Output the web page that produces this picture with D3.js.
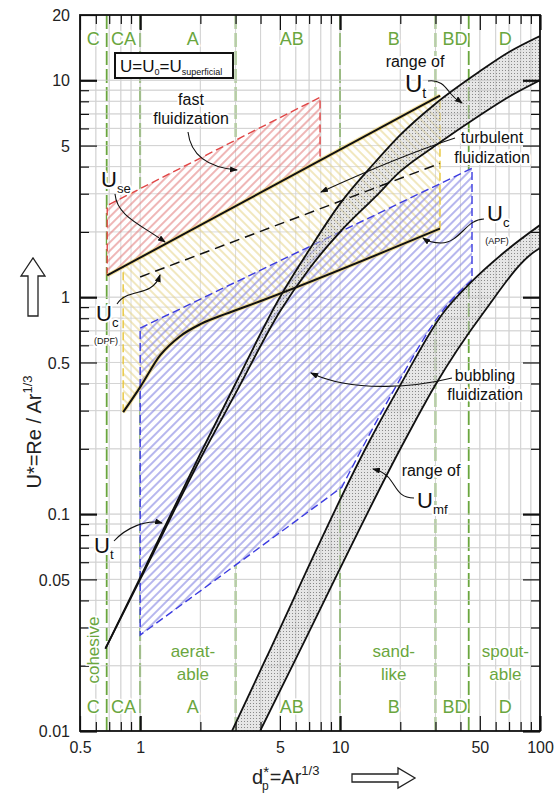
<!DOCTYPE html>
<html>
<head>
<meta charset="utf-8">
<script src="https://cdn.jsdelivr.net/npm/d3@7"></script>
<style>
  body { margin: 0; background: #fff; }
  svg { display: block; font-family: "Liberation Sans", Arial, sans-serif; }
</style>
</head>
<body>
<svg id="chart" width="557" height="793"></svg>
<script>
// values
const xTickLabels = [0.5, 1, 5, 10, 50, 100];
const yTickLabels = [0.01, 0.05, 0.1, 0.5, 1, 5, 10, 20];
const groupBounds = [0.68, 1, 3, 10, 30, 44];
const groupNames = ["C", "CA", "A", "AB", "B", "BD", "D"];
const groupWords = [["cohesive"], [], ["aerat-", "able"], [], ["sand-", "like"], [], ["spout-", "able"]];

const useLine = [[0.684, 1.26], [31.6, 8.5]];
const ucDPF = [[1.0, 1.24], [31.6, 4.14]];
const ucAPF = [[0.822, 0.295], [1.0, 0.385], [1.26, 0.54], [1.585, 0.661], [2.0, 0.751], [2.66, 0.835], [3.98, 0.958], [31.6, 2.07]];
const fastTop = [[0.684, 2.65], [7.94, 8.35]];
const turbEdges = [0.822, 31.6];
const bubTop = [[1.0, 0.72], [45.7, 3.93]];
const bubRight = [[45.7, 1.2], [32.7, 0.87], [20, 0.42], [14.1, 0.235], [10.2, 0.133]];
const bubBottom = [[10.2, 0.133], [1.0, 0.0277]];
const utUpper = [[0.67, 0.024], [1, 0.051], [2, 0.19], [3, 0.40], [5, 1.0], [7, 1.65], [10, 2.7], [15, 4.2], [20, 5.6], [30, 7.8], [50, 11], [70, 13.5], [100, 16]];
const utLower = [[0.67, 0.024], [1, 0.05], [2, 0.18], [3, 0.36], [5, 0.86], [7, 1.35], [10, 2.0], [15, 2.9], [20, 3.8], [30, 5.0], [50, 6.9], [70, 8.4], [100, 10]];
const umfUpper = [[2.88, 0.01], [4.22, 0.0212], [14.1, 0.219], [20, 0.393], [32.7, 0.844], [44.7, 1.16], [68.4, 1.65], [100, 2.15]];
const umfLower = [[3.98, 0.01], [5.96, 0.0212], [21.1, 0.219], [29.9, 0.393], [51.9, 0.844], [96.6, 1.65], [100, 1.68]];

const pl = 80, pr = 540, pt = 15, pb = 731;
const green = "#6aa63e";

const svg = d3.select("#chart");
const x = d3.scaleLog().domain([0.5, 100]).range([pl, pr]);
const y = d3.scaleLog().domain([0.01, 20]).range([pb, pt]);

// log-space interpolation along a straight boundary
function at(seg, d) {
    const [a, b] = seg;
    const t = Math.log(d / a[0]) / Math.log(b[0] / a[0]);
    return Math.exp(Math.log(a[1]) + t * Math.log(b[1] / a[1]));
}

const defs = svg.append("defs");
defs.append("clipPath").attr("id", "plot-clip")
    .append("rect").attr("x", pl).attr("y", pt)
    .attr("width", pr - pl).attr("height", pb - pt);

function hatch(id, color, angle) {
    defs.append("pattern")
        .attr("id", id)
        .attr("patternUnits", "userSpaceOnUse")
        .attr("width", 6).attr("height", 6)
        .attr("patternTransform", `rotate(${angle})`)
        .append("line")
        .attr("x1", 3).attr("y1", 0).attr("x2", 3).attr("y2", 6)
        .attr("stroke", color).attr("stroke-width", 1.1);
}
hatch("hatch-red", "#e27a7a", 45);
hatch("hatch-yellow", "#e6d48a", -45);
hatch("hatch-blue", "#7b7be0", 45);

const dots = defs.append("pattern")
    .attr("id", "stipple")
    .attr("patternUnits", "userSpaceOnUse")
    .attr("width", 3).attr("height", 3);
dots.append("rect").attr("width", 3).attr("height", 3).attr("fill", "#c8c8c8").attr("opacity", 0.45);
dots.append("rect").attr("x", 1).attr("y", 1).attr("width", 1).attr("height", 1).attr("fill", "#8a8a8a");

defs.append("marker")
    .attr("id", "arrowhead")
    .attr("markerWidth", 8).attr("markerHeight", 6)
    .attr("refX", 7).attr("refY", 3)
    .attr("orient", "auto")
    .attr("markerUnits", "userSpaceOnUse")
    .append("polygon")
    .attr("points", "0 0, 8 3, 0 6")
    .attr("fill", "#111");

const line = d3.line().x(d => x(d[0])).y(d => y(d[1]));
const smooth = d3.line().x(d => x(d[0])).y(d => y(d[1])).curve(d3.curveMonotoneX);

// grid values
const gridX = [], gridY = [];
[0.1, 1, 10].forEach(dec => d3.range(1, 10).forEach(k => gridX.push(+(k * dec).toPrecision(3))));
gridX.push(100);
[0.01, 0.1, 1, 10].forEach(dec => d3.range(1, 10).forEach(k => gridY.push(+(k * dec).toPrecision(3))));
const gx = gridX.filter(v => v >= 0.5 && v <= 100);
const gy = gridY.filter(v => v >= 0.01 && v <= 20);

function drawGrid(g) {
    g.selectAll("line.gx").data(gx).join("line").attr("class", "gx")
        .attr("x1", d => x(d)).attr("x2", d => x(d)).attr("y1", pt).attr("y2", pb)
        .attr("stroke", "#d2d2d2").attr("stroke-width", 0.8);
    g.selectAll("line.gy").data(gy).join("line").attr("class", "gy")
        .attr("y1", d => y(d)).attr("y2", d => y(d)).attr("x1", pl).attr("x2", pr)
        .attr("stroke", "#d2d2d2").attr("stroke-width", 0.8);
}

const plot = svg.append("g").attr("clip-path", "url(#plot-clip)");
drawGrid(plot.append("g"));

// Geldart group boundaries
plot.append("g").selectAll("line").data(groupBounds).join("line")
    .attr("x1", d => x(d)).attr("x2", d => x(d))
    .attr("y1", pt).attr("y2", pb)
    .attr("stroke", green).attr("stroke-width", 1.8)
    .attr("stroke-dasharray", "14,4");

// regime polygons
const fastPoly = [fastTop[0], fastTop[1], [fastTop[1][0], at(useLine, fastTop[1][0])], [fastTop[0][0], at(useLine, fastTop[0][0])]];
const turbTop = [[turbEdges[0], at(useLine, turbEdges[0])], [turbEdges[1], at(useLine, turbEdges[1])]];
const turbPath = line(turbTop) + smooth(ucAPF.slice().reverse()).replace("M", "L") + "Z";
const bubPath = line(bubTop) + line([bubTop[1], bubRight[0]]).replace("M", "L") +
    smooth(bubRight).replace("M", "L") + line(bubBottom).replace("M", "L") + "Z";

const regions = plot.append("g");
[line(fastPoly) + "Z", turbPath, bubPath].forEach(p => {
    regions.append("path").attr("d", p).attr("fill", "#fff");
});
drawGrid(regions.append("g"));
regions.append("path").attr("d", line(fastPoly) + "Z").attr("fill", "url(#hatch-red)");
regions.append("path").attr("d", turbPath).attr("fill", "url(#hatch-yellow)");
regions.append("path").attr("d", bubPath).attr("fill", "url(#hatch-blue)");

// dashed regime outlines
const outlines = plot.append("g").attr("fill", "none");
outlines.append("path")
    .attr("d", line([[fastTop[0][0], at(useLine, fastTop[0][0])], fastTop[0], fastTop[1], [fastTop[1][0], at(useLine, fastTop[1][0])]]))
    .attr("stroke", "#e04646").attr("stroke-width", 1.4).attr("stroke-dasharray", "8,4");
turbEdges.forEach((d, i) => {
    const lo = i === 0 ? ucAPF[0][1] : ucAPF[ucAPF.length - 1][1];
    outlines.append("path").attr("d", line([[d, lo], [d, at(useLine, d)]]))
        .attr("stroke", "#e8c63a").attr("stroke-width", 1.4).attr("stroke-dasharray", "8,4");
});
outlines.append("path").attr("d", line(useLine)).attr("stroke", "#f0d060").attr("stroke-width", 4).attr("opacity", 0.6);
outlines.append("path").attr("d", smooth(ucAPF)).attr("stroke", "#f0d060").attr("stroke-width", 4).attr("opacity", 0.6);
outlines.append("path").attr("d", bubPath)
    .attr("stroke", "#3c3ce0").attr("stroke-width", 1.4).attr("stroke-dasharray", "8,4");

// bands of Ut and Umf
const bands = plot.append("g");
function band(upper, lower) {
    const up = smooth(upper);
    const low = smooth(lower);
    const lowRev = smooth(lower.slice().reverse());
    bands.append("path").attr("d", up + lowRev.replace("M", "L") + "Z").attr("fill", "url(#stipple)");
    bands.append("path").attr("d", up).attr("fill", "none").attr("stroke", "#111").attr("stroke-width", 1.8);
    bands.append("path").attr("d", low).attr("fill", "none").attr("stroke", "#111").attr("stroke-width", 1.8);
}
band(utUpper, utLower);
band(umfUpper, umfLower);

// black velocity lines
const curves = plot.append("g").attr("fill", "none").attr("stroke", "#111");
curves.append("path").attr("d", line(useLine)).attr("stroke-width", 2);
curves.append("path").attr("d", smooth(ucAPF)).attr("stroke-width", 2);
curves.append("path").attr("d", line(ucDPF)).attr("stroke-width", 1.5).attr("stroke-dasharray", "10,6");

// axes: inward ticks on all sides
function styleAxis(g, decades) {
    g.select(".domain").remove();
    g.selectAll(".tick line").attr("stroke", "#111").attr("stroke-width", d => decades.includes(d) ? 2.2 : 1.2);
    g.selectAll(".tick text").attr("fill", "#222").attr("font-size", 16).attr("dy", null)
        .attr("font-family", "'Liberation Sans', Arial, sans-serif");
}
const xDec = [1, 10, 100], yDec = [0.01, 0.1, 1, 10];
const xMinor = gx.filter(v => !xTickLabels.includes(v));
const yMinor = gy.filter(v => !yTickLabels.includes(v));
const fmt = d => String(d);

[[d3.axisBottom, pb], [d3.axisTop, pt]].forEach(([mk, pos]) => {
    styleAxis(svg.append("g").attr("transform", `translate(0,${pos})`)
        .call(mk(x).tickValues(xMinor).tickSize(-9).tickFormat("")), xDec);
    const g = svg.append("g").attr("transform", `translate(0,${pos})`)
        .call(mk(x).tickValues(xTickLabels).tickSize(-15).tickPadding(8)
            .tickFormat(mk === d3.axisBottom ? fmt : ""));
    styleAxis(g, xDec);
    g.selectAll(".tick text").attr("dy", "0.9em");
});
[[d3.axisLeft, pl], [d3.axisRight, pr]].forEach(([mk, pos]) => {
    styleAxis(svg.append("g").attr("transform", `translate(${pos},0)`)
        .call(mk(y).tickValues(yMinor).tickSize(-9).tickFormat("")), yDec);
    const g = svg.append("g").attr("transform", `translate(${pos},0)`)
        .call(mk(y).tickValues(yTickLabels).tickSize(-17).tickPadding(10)
            .tickFormat(mk === d3.axisLeft ? fmt : ""));
    styleAxis(g, yDec);
    g.selectAll(".tick text").attr("dy", "0.35em");
});

svg.append("rect").attr("x", pl).attr("y", pt)
    .attr("width", pr - pl).attr("height", pb - pt)
    .attr("fill", "none").attr("stroke", "#111").attr("stroke-width", 1.8);

// Geldart group letters and descriptions
const edges = [0.5, ...groupBounds, 100];
const centers = groupNames.map((n, i) => Math.sqrt(edges[i] * edges[i + 1]));
const nudge = [0, 0, 5, 4, 6, 3, 1];
const labels = svg.append("g").attr("fill", green).attr("font-size", 18).attr("text-anchor", "middle");
groupNames.forEach((n, i) => {
    [45, 713].forEach(by => {
        labels.append("text").attr("x", x(centers[i]) + nudge[i]).attr("y", by).text(n)
            .attr("stroke", "#fff").attr("stroke-width", 3).attr("paint-order", "stroke");
    });
    const ws = groupWords[i];
    if (n === "C") {
        labels.append("text")
            .attr("transform", `translate(${x(centers[i]) + 6},650) rotate(-90)`)
            .attr("font-size", 17).text(ws[0])
            .attr("stroke", "#fff").attr("stroke-width", 3).attr("paint-order", "stroke");
    } else if (ws.length) {
        ws.forEach((w, k) => labels.append("text")
            .attr("x", x(centers[i]) + nudge[i]).attr("y", 657 + k * 23).attr("font-size", 17).text(w)
            .attr("stroke", "#fff").attr("stroke-width", 3).attr("paint-order", "stroke"));
    }
});

// annotations
const ann = svg.append("g").attr("fill", "#111");
function halo(sel) { return sel.attr("stroke", "#fff").attr("stroke-width", 4).attr("paint-order", "stroke").attr("stroke-linejoin", "round"); }
function words(lines, cx, y0, dy, size) {
    lines.forEach((t, i) => halo(ann.append("text").attr("x", cx).attr("y", y0 + i * dy)
        .attr("text-anchor", "middle").attr("font-size", size).text(t)));
}
function symbol(xp, yp, main, sub, size, note) {
    const t = halo(ann.append("text").attr("x", xp).attr("y", yp).attr("font-size", size));
    t.append("tspan").text(main);
    t.append("tspan").attr("font-size", size * 0.6).attr("dy", size * 0.25).text(sub);
    if (note) halo(ann.append("text").attr("x", xp + size * 0.45).attr("y", yp + size * 1.05)
        .attr("font-size", 9).attr("text-anchor", "middle").text(note));
}
function arrow(d) {
    svg.append("path").attr("d", d).attr("fill", "none").attr("stroke", "#111")
        .attr("stroke-width", 1.1).attr("marker-end", "url(#arrowhead)");
}

words(["fast", "fluidization"], 191, 105, 19, 16);
words(["turbulent", "fluidization"], 492, 143, 20, 16);
words(["bubbling", "fluidization"], 485, 381, 19, 16);
words(["range of"], 415, 67, 0, 16);
words(["range of"], 431, 476, 0, 16);
symbol(101, 187, "U", "se", 22);
symbol(96, 321, "U", "c", 22, "(DPF)");
symbol(487, 221, "U", "c", 22, "(APF)");
symbol(405, 92, "U", "t", 24);
symbol(417, 508, "U", "mf", 22);
symbol(94, 553, "U", "t", 22);

arrow("M188,132 Q192,166 237,170");
arrow("M115,194 C117,216 140,224 165,242");
arrow("M117,304 C124,292 140,294 150,288 Q157,284 160,275");
arrow("M114,541 C126,528 146,519 162,523");
arrow("M428,81 C441,79 446,88 451,94 S458,100 462,103");
arrow("M455,138 Q400,156 321,192");
arrow("M484,219 C466,219 460,243 441,243 Q430,243 423,238");
arrow("M452,378 C420,386 355,394 311,373");
arrow("M414,498 C400,498 397,489 392,482 C388,475 381,471 373,469");

// superficial velocity box
svg.append("rect").attr("x", 115).attr("y", 53).attr("width", 118).attr("height", 25)
    .attr("fill", "#fff").attr("stroke", "#111").attr("stroke-width", 2);
const box = svg.append("text").attr("x", 120).attr("y", 72).attr("font-size", 17).attr("fill", "#111");
box.append("tspan").text("U=U");
box.append("tspan").attr("font-size", 9).attr("dy", 3).text("0");
box.append("tspan").attr("dy", -3).text("=U");
box.append("tspan").attr("font-size", 9).attr("dy", 3).text("superficial");

// axis titles
const yt = svg.append("text").attr("transform", "translate(41,432) rotate(-90)")
    .attr("text-anchor", "middle").attr("font-size", 20).attr("fill", "#222");
yt.append("tspan").text("U*=Re / Ar");
yt.append("tspan").attr("font-size", 13).attr("dy", -9).text("1/3");
svg.append("polygon")
    .attr("points", "28,316 28,276 21,276 33,258 45,276 38,276 38,316")
    .attr("fill", "#fff").attr("stroke", "#222").attr("stroke-width", 1.3);

const xt = svg.append("text").attr("x", 252).attr("y", 784).attr("font-size", 20).attr("fill", "#222");
xt.append("tspan").text("d");
xt.append("tspan").attr("font-size", 15).attr("dy", -7).text("*");
xt.append("tspan").attr("font-size", 12).attr("dx", -7).attr("dy", 13).text("p");
xt.append("tspan").attr("dx", 1).attr("dy", -6).text("=Ar");
xt.append("tspan").attr("font-size", 13).attr("dy", -9).text("1/3");
svg.append("polygon")
    .attr("points", "352,774 398,774 398,768 415,778 398,788 398,782 352,782")
    .attr("fill", "#fff").attr("stroke", "#222").attr("stroke-width", 1.3);
</script>
</body>
</html>
